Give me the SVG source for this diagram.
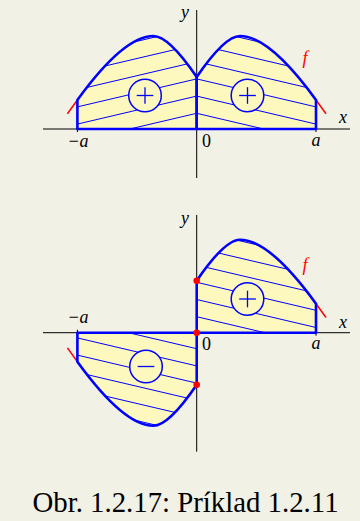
<svg xmlns="http://www.w3.org/2000/svg" xmlns:xlink="http://www.w3.org/1999/xlink" width="360" height="521" viewBox="0 0 360 521">
<style>
.bg{fill:#f2f1e6}
.fill{fill:#fdf8bd;stroke:none}
.outline{fill:none;stroke:#0000ff;stroke-width:2.6;stroke-linejoin:round}
.hatch{stroke:#0000ff;stroke-width:1}
.axis{stroke:#000;stroke-width:1;fill:none}
.red{stroke:#ff0000;stroke-width:1.5;fill:none}
.sign{fill:#fdf8bd;stroke:#0000ff;stroke-width:1.5}
.signline{stroke:#0000ff;stroke-width:1.3}
.lbl{font-family:"Liberation Serif","DejaVu Serif",serif;font-style:italic;font-size:18px;fill:#000}
.num{font-family:"Liberation Serif","DejaVu Serif",serif;font-size:18px;fill:#000}
.flbl{font-family:"Liberation Serif","DejaVu Serif",serif;font-style:italic;font-size:18px;fill:#ff0000}
.cap{font-family:"Liberation Serif","DejaVu Serif",serif;font-size:28.8px;fill:#000}
</style>
<defs>
<path id="rTR" d="M196.7,129 V77 Q224.7,36 240,36 Q269.6,36 316,100 V129 Z"/>
<path id="rTL" d="M196.7,129 V77 Q168.7,36 153.4,36 Q123.8,36 77.4,100 V129 Z"/>
<path id="rBR" d="M196.7,332.7 V280.7 Q224.7,239.7 240,239.7 Q269.6,239.7 316,303.7 V332.7 Z"/>
<path id="rBL" d="M196.7,332.7 V384.7 Q168.7,425.7 153.4,425.7 Q123.8,425.7 77.4,361.7 V332.7 Z"/>
<clipPath id="cTR"><use xlink:href="#rTR"/></clipPath>
<clipPath id="cTL"><use xlink:href="#rTL"/></clipPath>
<clipPath id="cBR"><use xlink:href="#rBR"/></clipPath>
<clipPath id="cBL"><use xlink:href="#rBL"/></clipPath>
</defs>
<rect class="bg" x="0" y="0" width="360" height="521"/>

<g id="top-plot">
<g id="top-axes">
<line class="axis" x1="43" y1="129" x2="350" y2="129"/>
<line class="axis" x1="196.7" y1="10" x2="196.7" y2="178"/>
<line class="axis" x1="77.4" y1="126" x2="77.4" y2="132"/>
<line class="axis" x1="316" y1="126" x2="316" y2="132"/>
</g>
<g id="top-left-region">
<use xlink:href="#rTL" class="fill"/>
<g clip-path="url(#cTL)" class="hatch">
<line x1="77.3" y1="38.1" x2="196.7" y2="10.1"/>
<line x1="77.3" y1="55.3" x2="196.7" y2="27.3"/>
<line x1="77.3" y1="72.5" x2="196.7" y2="44.5"/>
<line x1="77.3" y1="89.7" x2="196.7" y2="61.7"/>
<line x1="77.3" y1="106.9" x2="196.7" y2="78.9"/>
<line x1="77.3" y1="124.1" x2="196.7" y2="96.1"/>
<line x1="77.3" y1="141.3" x2="196.7" y2="113.3"/>
</g>
</g>
<g id="top-right-region">
<use xlink:href="#rTR" class="fill"/>
<g clip-path="url(#cTR)" class="hatch">
<line x1="196.7" y1="10.1" x2="316" y2="38.1"/>
<line x1="196.7" y1="27.3" x2="316" y2="55.3"/>
<line x1="196.7" y1="44.5" x2="316" y2="72.5"/>
<line x1="196.7" y1="61.7" x2="316" y2="89.7"/>
<line x1="196.7" y1="78.9" x2="316" y2="106.9"/>
<line x1="196.7" y1="96.1" x2="316" y2="124.1"/>
<line x1="196.7" y1="113.3" x2="316" y2="141.3"/>
</g>
</g>
<g id="top-f">
<line class="red" x1="77.4" y1="100" x2="67.4" y2="113.8"/>
<line class="red" x1="316" y1="100" x2="326" y2="113.8"/>
</g>
<g id="top-outline">
<use xlink:href="#rTL" class="outline"/>
<use xlink:href="#rTR" class="outline"/>
</g>
<g id="top-plus-left">
<circle class="sign" cx="145" cy="95.5" r="16.3"/>
<line class="signline" x1="136.7" y1="95.5" x2="153.3" y2="95.5"/>
<line class="signline" x1="145" y1="87.2" x2="145" y2="103.8"/>
</g>
<g id="top-plus-right">
<circle class="sign" cx="247.5" cy="95.5" r="16.3"/>
<line class="signline" x1="239.2" y1="95.5" x2="255.8" y2="95.5"/>
<line class="signline" x1="247.5" y1="87.2" x2="247.5" y2="103.8"/>
</g>
<g id="top-labels">
<text class="lbl" x="185" y="18" text-anchor="middle">y</text>
<text class="lbl" x="343" y="123" text-anchor="middle">x</text>
<text class="flbl" x="305" y="64" text-anchor="middle">f</text>
<text class="lbl" x="78" y="147" text-anchor="middle">−a</text>
<text class="num" x="206.5" y="147" text-anchor="middle">0</text>
<text class="lbl" x="316" y="146" text-anchor="middle">a</text>
</g>
</g>

<g id="bottom-plot">
<g id="bottom-axes">
<line class="axis" x1="43" y1="332.7" x2="350" y2="332.7"/>
<line class="axis" x1="196.7" y1="215" x2="196.7" y2="451.7"/>
<line class="axis" x1="77.4" y1="329.7" x2="77.4" y2="335.7"/>
<line class="axis" x1="316" y1="329.7" x2="316" y2="335.7"/>
</g>
<g id="bottom-left-region">
<use xlink:href="#rBL" class="fill"/>
<g clip-path="url(#cBL)" class="hatch">
<line x1="77.3" y1="320.7" x2="196.7" y2="348.7"/>
<line x1="77.3" y1="337.9" x2="196.7" y2="365.9"/>
<line x1="77.3" y1="355.1" x2="196.7" y2="383.1"/>
<line x1="77.3" y1="372.3" x2="196.7" y2="400.3"/>
<line x1="77.3" y1="389.5" x2="196.7" y2="417.5"/>
<line x1="77.3" y1="406.7" x2="196.7" y2="434.7"/>
<line x1="77.3" y1="423.9" x2="196.7" y2="451.9"/>
</g>
</g>
<g id="bottom-right-region">
<use xlink:href="#rBR" class="fill"/>
<g clip-path="url(#cBR)" class="hatch">
<line x1="196.7" y1="213.5" x2="316" y2="241.5"/>
<line x1="196.7" y1="230.7" x2="316" y2="258.7"/>
<line x1="196.7" y1="247.9" x2="316" y2="275.9"/>
<line x1="196.7" y1="265.1" x2="316" y2="293.1"/>
<line x1="196.7" y1="282.3" x2="316" y2="310.3"/>
<line x1="196.7" y1="299.5" x2="316" y2="327.5"/>
<line x1="196.7" y1="316.7" x2="316" y2="344.7"/>
</g>
</g>
<g id="bottom-f">
<line class="red" x1="77.4" y1="361.7" x2="67.4" y2="347.9"/>
<line class="red" x1="316" y1="303.7" x2="326" y2="317.5"/>
</g>
<g id="bottom-outline">
<use xlink:href="#rBL" class="outline"/>
<use xlink:href="#rBR" class="outline"/>
</g>
<g id="bottom-plus">
<circle class="sign" cx="247.5" cy="299" r="16.3"/>
<line class="signline" x1="239.2" y1="299" x2="255.8" y2="299"/>
<line class="signline" x1="247.5" y1="290.7" x2="247.5" y2="307.3"/>
</g>
<g id="bottom-minus">
<circle class="sign" cx="146" cy="366.5" r="16.3"/>
<line class="signline" x1="137.7" y1="366.5" x2="154.3" y2="366.5"/>
</g>
<g id="bottom-points" fill="#ff0000">
<circle cx="196.7" cy="280.7" r="3.3"/>
<circle cx="196.7" cy="332.7" r="3.3"/>
<circle cx="196.7" cy="384.7" r="3.3"/>
</g>
<g id="bottom-labels">
<text class="lbl" x="185" y="224" text-anchor="middle">y</text>
<text class="lbl" x="343" y="328" text-anchor="middle">x</text>
<text class="flbl" x="305" y="271" text-anchor="middle">f</text>
<text class="lbl" x="78" y="323" text-anchor="middle">−a</text>
<text class="num" x="206.5" y="350" text-anchor="middle">0</text>
<text class="lbl" x="316" y="349" text-anchor="middle">a</text>
</g>
</g>

<text id="caption" class="cap" x="185.5" y="512" text-anchor="middle">Obr. 1.2.17: Príklad 1.2.11</text>
</svg>
